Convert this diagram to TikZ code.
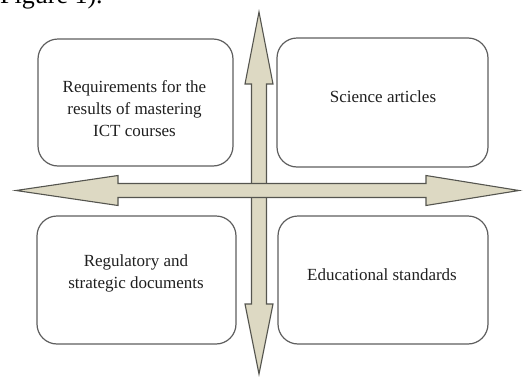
\documentclass[tikz,border=0pt]{standalone}
\usepackage{fontspec}
\setmainfont{Liberation Serif}
\definecolor{arrowfill}{HTML}{DDD9C3}
\definecolor{arrowline}{HTML}{55554F}
\definecolor{boxline}{HTML}{5E5E5E}
\begin{document}
\begin{tikzpicture}[x=1pt,y=-1pt,
  card/.style={draw=boxline, line width=1.2pt, rounded corners=20pt, inner sep=0pt},
  label/.style={font=\fontsize{17}{22}\selectfont, align=center, anchor=base,
                inner sep=0pt, text=black!88},
  bigarrow/.style={draw=arrowline, fill=arrowfill, line width=1.1pt, line join=miter}]
\useasboundingbox (0,0) rectangle (523,378);

% caption line of the page, cut by the top edge
\begin{scope}
  \clip (0,0) rectangle (523,378);
  \node[anchor=base west, inner sep=0pt, font=\fontsize{26}{30}\selectfont] (caption) at (0,3) {Figure 1).};
\end{scope}

% four rounded cards
\node[card, minimum width=195pt, minimum height=127pt] (reqbox) at (135.5,102.5) {};
\node[card, minimum width=211pt, minimum height=129pt] (scibox) at (382.5,102.5) {};
\node[card, minimum width=199pt, minimum height=128pt] (regbox) at (136.5,280) {};
\node[card, minimum width=210pt, minimum height=128pt] (edubox) at (383,280) {};

% vertical double arrow
\draw[bigarrow] (259,12) -- (273,84) -- (266.5,84) -- (266.5,304) -- (273,304)
  -- (259,374) -- (245,304) -- (251.5,304) -- (251.5,84) -- (245,84) -- cycle;

% horizontal double arrow, drawn over the vertical one
\draw[bigarrow] (16,190.5) -- (118,175.5) -- (118,183.5) -- (426,183.5) -- (426,175.5)
  -- (519,190.5) -- (426,205.5) -- (426,197.5) -- (118,197.5) -- (118,205.5) -- cycle;

% card texts (a multi-line node sits on the baseline of its last line)
\node[label] (req) at (134.5,136) {Requirements for the\\results of mastering\\ICT courses};
\node[label] (sci) at (383,102) {Science articles};
\node[label] (reg) at (136,288) {Regulatory and\\strategic documents};
\node[label] (edu) at (382,280) {Educational standards};
\end{tikzpicture}
\end{document}
